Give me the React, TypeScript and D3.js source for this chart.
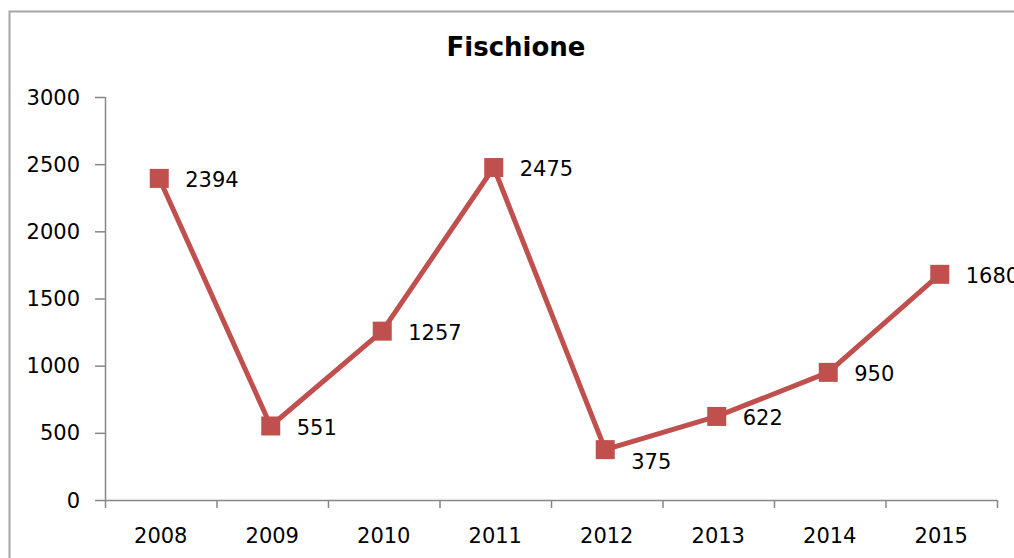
import React from "react";
import * as d3 from "d3";

const title = "Fischione";
const years = ["2008", "2009", "2010", "2011", "2012", "2013", "2014", "2015"];
const values = [2394, 551, 1257, 2475, 375, 622, 950, 1680];
const yTicks = [0, 500, 1000, 1500, 2000, 2500, 3000];

const W = 1014;
const H = 558;
const left = 105;
const right = 997;
const top = 97;
const bottom = 500;
const color = "#C0504D";
const axisColor = "#878787";
const font = "DejaVu Sans, Verdana, sans-serif";
// vertical nudge of data labels (px), like Excel's automatic placement
const labelNudge = (i: number) => (i === 4 ? 12 : 1);

export default function App() {
  const x = d3.scaleBand<string>().domain(years).range([left, right]);
  const y = d3.scaleLinear().domain([0, 3000]).range([bottom, top]);
  const cx = (d: string) => (x(d) as number) + x.bandwidth() / 2 - 1.5;
  const line = d3
    .line<number>()
    .x((_, i) => cx(years[i]))
    .y((v) => y(v));
  const ms = 19;
  const boundaries = years.map((d) => x(d) as number).concat([right]);

  return (
    <svg
      width={W}
      height={H}
      style={{ position: "fixed", left: 0, top: 0, background: "#fff" }}
      fontFamily={font}
    >
      <rect x={0} y={0} width={W} height={H} fill="#fff" />
      <rect x={9.5} y={11.5} width={W + 20} height={H + 20} fill="none" stroke="#a6a6a6" strokeWidth={2} />
      <text x={516} y={56} textAnchor="middle" fontSize={26} fontWeight="bold" fill="#000">
        {title}
      </text>
      {/* y axis */}
      <line x1={left + 0.5} x2={left + 0.5} y1={top} y2={bottom} stroke={axisColor} strokeWidth={1.5} />
      {yTicks.map((t) => (
        <g key={t}>
          <line x1={95} x2={left} y1={y(t) + 0.5} y2={y(t) + 0.5} stroke={axisColor} strokeWidth={1.5} />
          <text x={80} y={y(t)} dy="0.36em" textAnchor="end" fontSize={21} fill="#000">
            {t}
          </text>
        </g>
      ))}
      {/* x axis */}
      <line x1={left} x2={right} y1={bottom + 0.5} y2={bottom + 0.5} stroke={axisColor} strokeWidth={1.5} />
      {boundaries.map((b, i) => (
        <line key={i} x1={b + 0.5} x2={b + 0.5} y1={bottom} y2={bottom + 8} stroke={axisColor} strokeWidth={1.5} />
      ))}
      {years.map((d) => (
        <text key={d} x={cx(d) + 1.5} y={543} textAnchor="middle" fontSize={21} fill="#000">
          {d}
        </text>
      ))}
      {/* series */}
      <path d={line(values) || ""} fill="none" stroke={color} strokeWidth={5} strokeLinejoin="round" />
      {values.map((v, i) => (
        <rect key={i} x={cx(years[i]) - ms / 2} y={y(v) - ms / 2} width={ms} height={ms} fill={color} />
      ))}
      {values.map((v, i) => (
        <text key={"l" + i} x={cx(years[i]) + 26} y={y(v) + labelNudge(i)} dy="0.36em" fontSize={21} fill="#000">
          {v}
        </text>
      ))}
    </svg>
  );
}
